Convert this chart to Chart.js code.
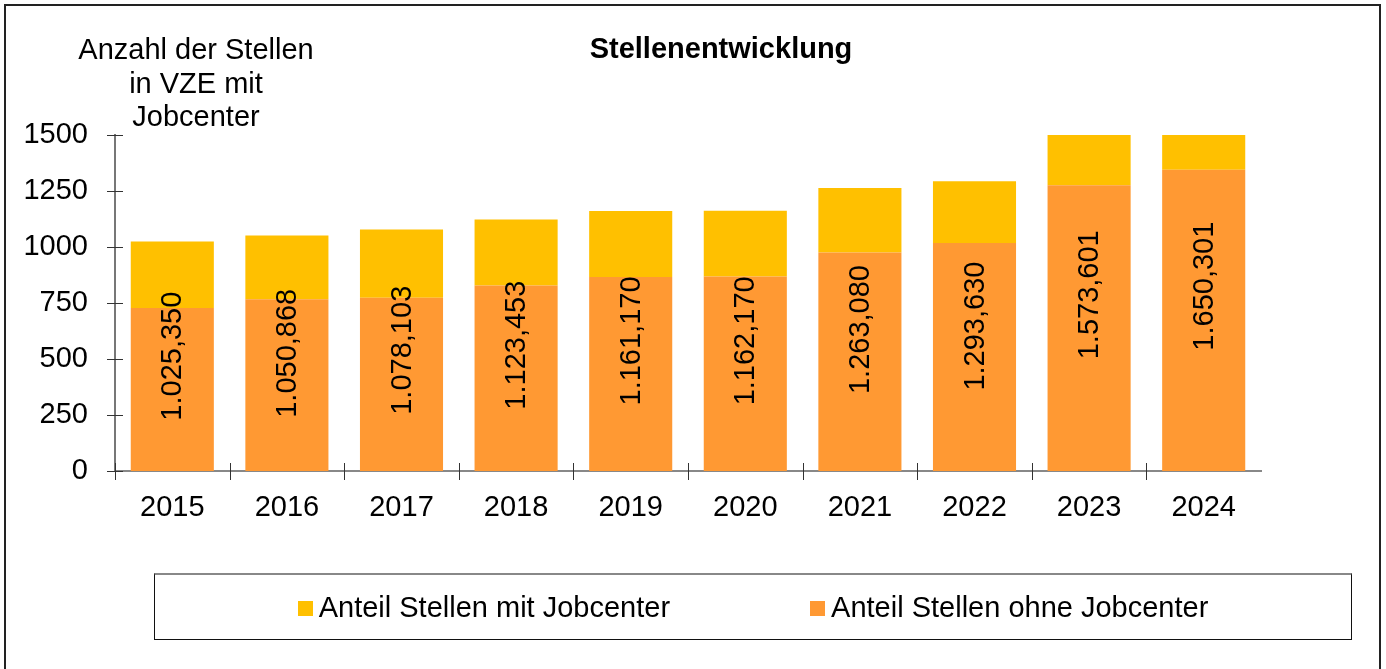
<!DOCTYPE html>
<html lang="de">
<head>
  <meta charset="UTF-8">
  <title>Stellenentwicklung</title>
  <script src="https://cdn.jsdelivr.net/npm/chart.js"></script>
  <style>
    html, body {
      margin: 0;
      padding: 0;
      background: #fff;
      overflow: hidden;
    }
    .wrap {
      position: relative;
      width: 1386px;
      height: 669px;
      font-family: 'Liberation Sans', Arial, sans-serif;
    }
    .frame {
      position: absolute;
      left: 4px;
      top: 4px;
      width: 1373px;
      height: 700px;
      border: 2px solid #222;
    }
    #chart {
      position: absolute;
      left: 0;
      top: 0;
    }
    .legend {
      position: absolute;
      left: 154px;
      top: 573px;
      width: 1196px;
      height: 64px;
      border: 1px solid #111;
      border-top: 2px solid #888;
      display: flex;
      justify-content: center;
      align-items: center;
      gap: 140px;
      font-size: 29px;
      color: #000;
    }
    .legend span.box {
      display: inline-block;
      width: 15px;
      height: 15px;
      margin-right: 6px;
      vertical-align: 1px;
    }
  </style>
</head>
<body>
  <div class="wrap">
    <div class="frame"></div>
    <canvas id="chart" width="1386" height="669"></canvas>
    <div class="legend" id="legend"></div>
  </div>

  <script>
    const years = ['2015', '2016', '2017', '2018', '2019', '2020', '2021', '2022', '2023', '2024'];
    // totals as printed on the bars (German number format)
    const totals = [1025.350, 1050.868, 1078.103, 1123.453, 1161.170, 1162.170, 1263.080, 1293.630, 1573.601, 1650.301];
    const ohneJobcenter = [728, 767, 773, 828, 866, 868, 975, 1018, 1276, 1345];
    const mitJobcenter = [297, 284, 305, 295, 295, 294, 288, 276, 298, 305];
    const yTicks = [0, 250, 500, 750, 1000, 1250, 1500];
    const yTitle = ['Anzahl der Stellen', 'in VZE mit', 'Jobcenter'];

    const colOhne = '#FF9933';
    const colMit = '#FFC000';

    function fmtDe(v) {
      const parts = v.toFixed(3).split('.');
      const int = parts[0].replace(/\B(?=(\d{3})+(?!\d))/g, '.');
      return int + ',' + parts[1];
    }

    Chart.defaults.font.family = "'Liberation Sans', Arial, sans-serif";
    Chart.defaults.font.size = 29;
    Chart.defaults.color = '#000';

    // titles, cross tick marks and rotated total labels
    const extras = {
      id: 'extras',
      afterDatasetsDraw(chart) {
        const ctx = chart.ctx;
        const xs = chart.scales.x;
        const ys = chart.scales.y;
        const area = chart.chartArea;
        ctx.save();

        // crossing tick marks
        ctx.strokeStyle = '#333';
        ctx.lineWidth = 1;
        yTicks.forEach(v => {
          const y = Math.round(ys.getPixelForValue(v)) + 0.5;
          ctx.beginPath();
          ctx.moveTo(area.left - 8, y);
          ctx.lineTo(area.left + 8, y);
          ctx.stroke();
        });
        const half = (xs.getPixelForValue(1) - xs.getPixelForValue(0)) / 2;
        years.forEach((yr, i) => {
          const x = Math.round(xs.getPixelForValue(i) - half) + 0.5;
          ctx.beginPath();
          ctx.moveTo(x, area.bottom - 8);
          ctx.lineTo(x, area.bottom + 9);
          ctx.stroke();
        });

        // total labels, rotated, centred on the full stack
        const meta = chart.getDatasetMeta(0);
        ctx.fillStyle = '#000';
        ctx.font = "29px 'Liberation Sans', Arial, sans-serif";
        ctx.textAlign = 'center';
        ctx.textBaseline = 'middle';
        totals.forEach((t, i) => {
          const x = meta.data[i].x;
          const y = ys.getPixelForValue(t / 2);
          ctx.save();
          ctx.translate(x + 1, y);
          ctx.rotate(-Math.PI / 2);
          ctx.fillText(fmtDe(t), 0, 0);
          ctx.restore();
        });

        // main title
        ctx.font = "bold 29px 'Liberation Sans', Arial, sans-serif";
        ctx.textBaseline = 'alphabetic';
        ctx.fillText('Stellenentwicklung', 721, 58);

        // y axis title
        ctx.font = "29px 'Liberation Sans', Arial, sans-serif";
        yTitle.forEach((line, i) => {
          ctx.fillText(line, 196, 59 + i * 33.5);
        });
        ctx.restore();
      }
    };

    const chart = new Chart(document.getElementById('chart'), {
      type: 'bar',
      data: {
        labels: years,
        datasets: [
          {
            label: 'Anteil Stellen ohne Jobcenter',
            data: ohneJobcenter,
            backgroundColor: colOhne,
            categoryPercentage: 1,
            barPercentage: 0.725,
            clip: 0
          },
          {
            label: 'Anteil Stellen mit Jobcenter',
            data: mitJobcenter,
            backgroundColor: colMit,
            categoryPercentage: 1,
            barPercentage: 0.725,
            clip: 0
          }
        ]
      },
      options: {
        responsive: false,
        animation: false,
        layout: {
          padding: { left: 0, top: 135, right: 125, bottom: 138 }
        },
        plugins: {
          legend: { display: false },
          tooltip: { enabled: false }
        },
        scales: {
          x: {
            stacked: true,
            grid: { display: false, drawTicks: false },
            border: { display: true, color: '#888', width: 2 },
            ticks: { padding: 20, maxRotation: 0 },
            afterFit(s) { s.height = 60; }
          },
          y: {
            stacked: true,
            min: 0,
            max: 1500,
            grid: { display: false, drawTicks: false },
            border: { display: true, color: '#777', width: 2 },
            ticks: { stepSize: 250, padding: 27, callback: v => String(v) },
            afterFit(s) { s.width = 115; }
          }
        }
      },
      plugins: [extras]
    });

    // legend in a framed box, yellow series first as in the original
    const legend = document.getElementById('legend');
    [[colMit, 'Anteil Stellen mit Jobcenter'], [colOhne, 'Anteil Stellen ohne Jobcenter']].forEach(([c, t]) => {
      const item = document.createElement('div');
      item.innerHTML = '<span class="box" style="background:' + c + '"></span>' + t;
      legend.appendChild(item);
    });
  </script>
</body>
</html>
